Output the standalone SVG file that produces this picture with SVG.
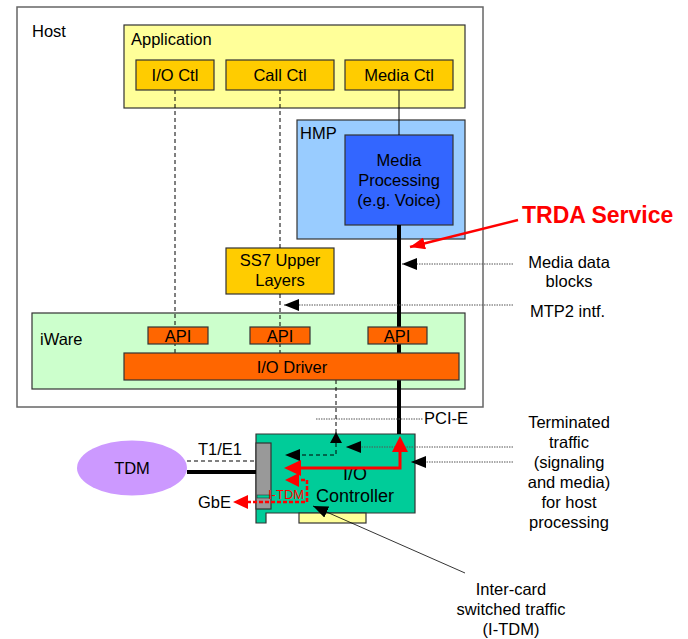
<svg xmlns="http://www.w3.org/2000/svg" width="688" height="639" viewBox="0 0 688 639">
<style>
text{font-family:"Liberation Sans",Arial,sans-serif;font-size:16.5px;fill:#000}
.c{text-anchor:middle}
.box{stroke:#333;stroke-width:1.2}
.dash{stroke:#000;stroke-width:1;stroke-dasharray:4,3;fill:none}
.dot{stroke:#555;stroke-width:1;stroke-dasharray:1.5,1;fill:none}
.red{stroke:#ff0000;fill:none}
</style>
<defs>
<marker id="ab" markerUnits="userSpaceOnUse" markerWidth="16" markerHeight="12" refX="15" refY="6" orient="auto"><path d="M0,0 L15,6 L0,12 Z" fill="#000"/></marker>
<marker id="ar" markerUnits="userSpaceOnUse" markerWidth="16" markerHeight="12" refX="15" refY="6" orient="auto"><path d="M0,0 L15,6 L0,12 Z" fill="#ff0000"/></marker>
</defs>
<g id="host"><rect x="17" y="7" width="466" height="400" fill="#fff" stroke="#666" stroke-width="1.5"/><text x="32" y="37">Host</text></g>
<g id="application"><rect class="box" x="124" y="25" width="341" height="83" fill="#ffff99"/><text x="131" y="45">Application</text></g>
<g id="io-ctl"><rect class="box" x="136" y="60" width="78" height="30" fill="#ffcc00"/><text class="c" x="175" y="81">I/O Ctl</text></g>
<g id="call-ctl"><rect class="box" x="226" y="60" width="108" height="30" fill="#ffcc00"/><text class="c" x="280" y="81">Call Ctl</text></g>
<g id="media-ctl"><rect class="box" x="345" y="60" width="108" height="30" fill="#ffcc00"/><text class="c" x="399" y="81">Media Ctl</text></g>
<g id="hmp"><rect class="box" x="297" y="120" width="168" height="119" fill="#99ccff"/><text x="300" y="139">HMP</text></g>
<g id="media-processing"><rect class="box" x="345" y="135" width="108" height="90" fill="#3366ff"/><text class="c" x="399" y="166">Media</text><text class="c" x="399" y="186">Processing</text><text class="c" x="399" y="206">(e.g. Voice)</text></g>
<g id="ss7"><rect class="box" x="226" y="248" width="108" height="46" fill="#ffcc00"/><text class="c" x="280" y="266">SS7 Upper</text><text class="c" x="280" y="286">Layers</text></g>
<g id="iware"><rect class="box" x="32" y="313" width="433" height="76" fill="#ccffcc"/><text x="40" y="345">iWare</text></g>
<g id="tdm"><ellipse cx="132" cy="468" rx="55" ry="27.5" fill="#cc99ff"/><text class="c" x="132" y="474">TDM</text></g>
<g id="io-controller">
<path class="box" d="M256,434 H415 V513 H266 V523 H256 Z" fill="#00cc99"/>
<rect class="box" x="299" y="513" width="67" height="10" fill="#ffff99"/>
<rect class="box" x="256" y="443" width="15" height="66" fill="#999"/>
<rect x="257" y="495" width="13" height="3" fill="#00cc99" stroke="#333" stroke-width="0.6"/>
<text class="c" x="355" y="480" style="font-size:18px">I/O</text><text class="c" x="355" y="502" style="font-size:18px">Controller</text>
</g>
<g id="connectors">
<line class="dash" x1="175" y1="90" x2="175" y2="353"/>
<line class="dash" x1="280" y1="90" x2="280" y2="248"/>
<line class="dash" x1="280" y1="294" x2="280" y2="353"/>
<line x1="399" y1="90" x2="399" y2="135" stroke="#000" stroke-width="1"/>
<line x1="399" y1="225" x2="399" y2="434" stroke="#000" stroke-width="4"/>
<line class="dot" x1="513" y1="264" x2="402" y2="264" marker-end="url(#ab)"/>
<line class="dot" x1="513" y1="305" x2="284" y2="305" marker-end="url(#ab)"/>
<line class="dot" x1="316" y1="419" x2="423" y2="419"/>
<line class="dot" x1="513" y1="447" x2="346" y2="447" marker-end="url(#ab)"/>
<line class="dot" x1="513" y1="462" x2="411" y2="462" marker-end="url(#ab)"/>
<path class="dash" d="M336,380 V455 H285" marker-end="url(#ab)"/>
<path d="M330,443 L336,432 L342,443 Z" fill="#000"/>
<line class="dash" x1="187" y1="461" x2="256" y2="461"/>
<line x1="187" y1="472" x2="256" y2="472" stroke="#000" stroke-width="4"/>
<line x1="465" y1="573" x2="313" y2="506" stroke="#000" stroke-width="0.8" marker-end="url(#ab)"/>
<line class="red" x1="518" y1="220" x2="410" y2="247" stroke-width="2.5" marker-end="url(#ar)"/>
<path class="red" d="M300,468 H400 V450" stroke-width="3"/>
<path d="M284,468 L301,460 L301,476 Z" fill="#ff0000"/>
<path d="M392,452 L400,436 L408,452 Z" fill="#ff0000"/>
<path class="red" d="M247,502 H307 V480 H298" stroke-width="2.5" stroke-dasharray="4,2"/>
<path d="M285,480 L299,473 L299,487 Z" fill="#ff0000"/>
<path d="M233,502 L248,495 L248,509 Z" fill="#ff0000"/>
</g>
<g id="io-driver"><rect class="box" x="124" y="353" width="335" height="27" fill="#ff6600"/><text class="c" x="292" y="373">I/O Driver</text></g>
<g id="api-1"><rect class="box" x="148" y="327" width="60" height="17" fill="#ff6600"/><text class="c" x="178" y="342">API</text></g>
<g id="api-2"><rect class="box" x="250" y="327" width="60" height="17" fill="#ff6600"/><text class="c" x="280" y="342">API</text></g>
<g id="api-3"><rect class="box" x="368" y="327" width="59" height="17" fill="#ff6600"/><text class="c" x="397" y="342">API</text></g>
<text x="268" y="499" style="font-size:13px;fill:#ff0000">I-TDM</text>
<text x="198" y="455">T1/E1</text>
<text x="198" y="508">GbE</text>
<text x="424" y="424">PCI-E</text>
<text x="522" y="223" style="font-size:23px;font-weight:bold;fill:#ff0000">TRDA Service</text>
<text class="c" x="569" y="268">Media data</text><text class="c" x="569" y="287">blocks</text>
<text x="530" y="317">MTP2 intf.</text>
<text class="c" x="569" y="428">Terminated</text><text class="c" x="569" y="448">traffic</text><text class="c" x="569" y="468">(signaling</text><text class="c" x="569" y="488">and media)</text><text class="c" x="569" y="508">for host</text><text class="c" x="569" y="528">processing</text>
<text class="c" x="511" y="595">Inter-card</text><text class="c" x="511" y="615">switched traffic</text><text class="c" x="511" y="635">(I-TDM)</text>
</svg>
